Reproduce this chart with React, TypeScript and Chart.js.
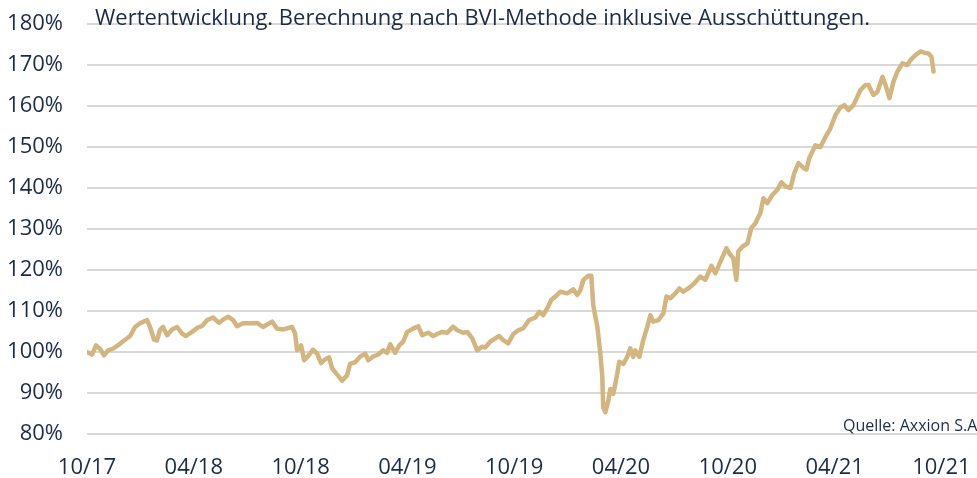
import React, { useEffect, useRef } from "react";
import { Chart, registerables } from "chart.js";

Chart.register(...registerables);

// Month offsets since 10/2017
const monthOffsets: number[] = [
  0, 0.28, 0.51, 0.73, 0.96, 1.18, 1.46, 1.85, 2.14, 2.42, 2.7, 2.98, 3.37, 3.54, 3.77, 3.93, 4.1, 4.27, 4.5, 4.78,
  5.06, 5.34, 5.56, 5.9, 6.24, 6.46, 6.75, 7.08, 7.42, 7.64, 7.93, 8.21, 8.43, 8.77, 9.16, 9.56, 9.89, 10.4, 10.68, 11.02,
  11.52, 11.69, 11.8, 12.03, 12.2, 12.42, 12.7, 12.93, 13.15, 13.38, 13.6, 13.77, 14.0, 14.33, 14.61, 14.78, 15.06, 15.35, 15.63, 15.8,
  16.08, 16.36, 16.64, 16.86, 17.03, 17.31, 17.54, 17.76, 17.99, 18.32, 18.61, 18.83, 19.17, 19.45, 19.67, 19.95, 20.24, 20.57, 20.8, 21.13,
  21.36, 21.64, 21.92, 22.2, 22.37, 22.65, 22.93, 23.16, 23.38, 23.66, 23.95, 24.23, 24.51, 24.84, 25.18, 25.41, 25.63, 25.86, 26.08, 26.36,
  26.59, 26.98, 27.32, 27.54, 27.71, 27.88, 28.16, 28.33, 28.44, 28.56, 28.67, 28.84, 28.95, 29.0, 29.12, 29.29, 29.4, 29.57, 29.79, 29.9,
  30.13, 30.35, 30.52, 30.69, 30.8, 31.03, 31.25, 31.48, 31.65, 31.81, 32.1, 32.38, 32.55, 32.77, 33.05, 33.28, 33.5, 33.78, 34.06, 34.46,
  34.74, 35.08, 35.3, 35.58, 35.92, 36.14, 36.31, 36.48, 36.59, 36.82, 37.1, 37.32, 37.55, 37.83, 38.0, 38.22, 38.5, 38.79, 39.01, 39.24,
  39.52, 39.74, 39.97, 40.25, 40.42, 40.58, 40.92, 41.2, 41.48, 41.76, 42.05, 42.33, 42.55, 42.78, 43.06, 43.28, 43.45, 43.73, 43.9, 44.18,
  44.41, 44.69, 44.86, 45.08, 45.31, 45.53, 45.81, 46.09, 46.26, 46.54, 46.82, 47.05, 47.28, 47.44, 47.56,
];

// Indexed performance in %
const performance: number[] = [
  100.0, 99.4, 101.6, 100.8, 99.2, 100.4, 100.8, 102, 103, 103.9, 106.1, 107, 107.8, 106.1, 103, 102.8, 105.4, 106.1, 104.1, 105.5,
  106.1, 104.5, 103.9, 104.9, 106, 106.3, 107.8, 108.4, 107.1, 107.9, 108.6, 107.8, 106.3, 107, 107, 107.1, 106.1, 107.4, 105.7, 105.5,
  106.1, 104.5, 100.4, 101.6, 98, 99, 100.6, 99.6, 97.3, 98.2, 98.7, 96, 94.8, 93, 94.3, 97.1, 97.5, 98.9, 99.6, 98,
  98.9, 99.4, 100.4, 99.8, 101.9, 99.8, 101.6, 102.5, 104.9, 105.7, 106.3, 104.1, 104.7, 103.9, 104.4, 104.9, 104.7, 106.2, 105.3, 104.7,
  104.9, 103.3, 100.4, 101.3, 101.1, 102.5, 103.3, 103.9, 102.9, 102.1, 104.4, 105.3, 105.8, 107.8, 108.4, 109.8, 109, 110.7, 112.7, 113.7,
  114.7, 114.3, 115.3, 113.9, 115, 117.5, 118.6, 118.6, 111.5, 108.6, 106.2, 99.6, 93.9, 86.5, 85.3, 88.2, 91, 89.8, 94.7, 97.6,
  97.1, 98.8, 100.9, 98.8, 100.4, 98.8, 102.9, 106.2, 109, 107.4, 107.8, 109.4, 113.5, 113.1, 114.3, 115.5, 114.7, 115.5, 116.5, 118.4,
  117.6, 121, 119.2, 122, 125.3, 123.7, 122.9, 117.6, 124.5, 125.7, 126.5, 130.2, 131.4, 133.9, 137.5, 136.3, 138.3, 139.6, 141.4, 140.4,
  140, 143.7, 146.1, 144.9, 144.5, 147.3, 150.4, 150, 152.4, 154.5, 157.8, 159.7, 160.2, 159, 160.2, 162.3, 163.9, 165.1, 165.1, 162.7,
  163.5, 167.1, 165.1, 161.9, 166, 168.4, 170.4, 170, 171.2, 172.4, 173.3, 173, 172.8, 172, 168.4,
];

const xTickLabels: string[] = ["10/17", "04/18", "10/18", "04/19", "10/19", "04/20", "10/20", "04/21", "10/21"];

const subtitleText = "Wertentwicklung. Berechnung nach BVI-Methode inklusive Ausschüttungen.";
const sourceText = "Quelle: Axxion S.A.";

const NAVY = "#1c2b4a";
const GOLD = "#d2b57f";
const GRID = "#d9d9d9";
const FONT = "'Open Sans', sans-serif";

const textPlugin = {
  id: "extraTexts",
  afterDraw(chart: any) {
    const ctx = chart.ctx;
    ctx.save();
    ctx.fillStyle = NAVY;
    ctx.textBaseline = "alphabetic";
    ctx.textAlign = "left";
    ctx.font = `22px ${FONT}`;
    ctx.fillText(subtitleText, 95, 25);
    ctx.font = `16px ${FONT}`;
    ctx.fillText(sourceText, 843, 431);
    ctx.restore();
  },
};

export default function App() {
  const ref = useRef<HTMLCanvasElement | null>(null);

  useEffect(() => {
    if (!ref.current) return;
    Chart.defaults.font.family = FONT;
    const chart = new Chart(ref.current, {
      type: "line",
      data: {
        datasets: [
          {
            data: monthOffsets.map((m, i) => ({ x: m, y: performance[i] })),
            borderColor: GOLD,
            borderWidth: 4.5,
            pointRadius: 0,
            tension: 0,
            borderJoinStyle: "round",
            borderCapStyle: "round",
          },
        ],
      },
      options: {
        animation: false,
        responsive: false,
        devicePixelRatio: 1,
        layout: { padding: { top: 24, right: 0, left: 0, bottom: 0 } },
        plugins: { legend: { display: false }, tooltip: { enabled: false }, title: { display: false } },
        scales: {
          x: {
            type: "linear",
            min: 0,
            max: 50,
            grid: { display: false },
            border: { display: false },
            ticks: {
              stepSize: 6,
              includeBounds: false,
              autoSkip: false,
              maxRotation: 0,
              padding: 13,
              color: NAVY,
              font: { size: 22, family: FONT },
              callback: (v: any) => {
                const idx = Number(v) / 6;
                return Number.isInteger(idx) ? xTickLabels[idx] ?? "" : "";
              },
            },
            afterFit: (s: any) => {
              s.height = 44;
              s.paddingLeft = 0;
              s.paddingRight = 0;
            },
          },
          y: {
            min: 80,
            max: 180,
            grid: { color: GRID, lineWidth: 2, drawTicks: false },
            border: { display: false },
            ticks: {
              stepSize: 10,
              padding: 24,
              color: NAVY,
              font: { size: 22, family: FONT },
              callback: (v: any) => `${v}%`,
            },
            afterFit: (s: any) => {
              s.width = 87;
              s.paddingTop = 0;
              s.paddingBottom = 0;
            },
          },
        },
      },
      plugins: [textPlugin],
    });
    return () => chart.destroy();
  }, []);

  return (
    <div style={{ position: "absolute", left: 0, top: 0, width: 977, height: 478, background: "#fff" }}>
      <canvas ref={ref} width={977} height={478} style={{ display: "block" }} />
    </div>
  );
}
